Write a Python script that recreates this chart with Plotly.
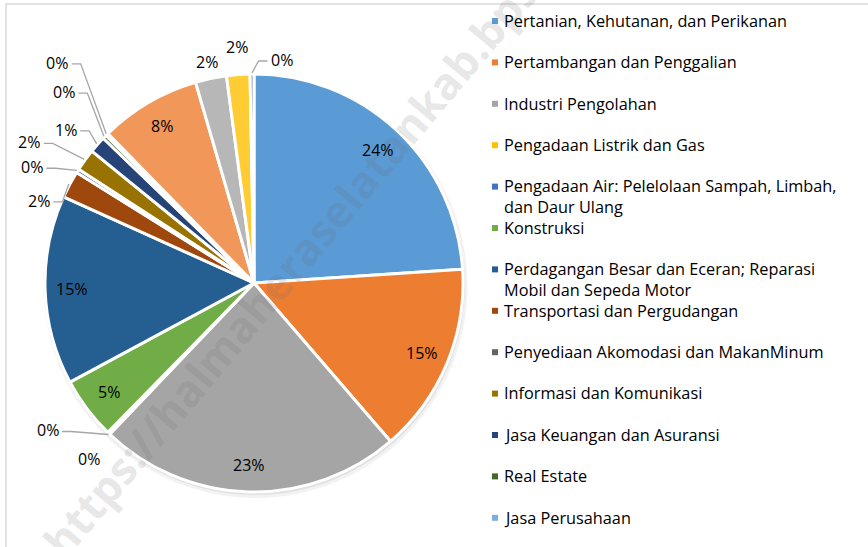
import math
import plotly.graph_objects as go

# ---------------- data ----------------
categories = [
    "Pertanian, Kehutanan, dan Perikanan",
    "Pertambangan dan Penggalian",
    "Industri Pengolahan",
    "Pengadaan Listrik dan Gas",
    "Pengadaan Air: Pelelolaan Sampah, Limbah, dan Daur Ulang",
    "Konstruksi",
    "Perdagangan Besar dan Eceran; Reparasi Mobil dan Sepeda Motor",
    "Transportasi dan Pergudangan",
    "Penyediaan Akomodasi dan MakanMinum",
    "Informasi dan Komunikasi",
    "Jasa Keuangan dan Asuransi",
    "Real Estate",
    "Jasa Perusahaan",
    "Administrasi Pemerintahan, Pertahanan dan Jaminan Sosial Wajib",
    "Jasa Pendidikan",
    "Jasa Kesehatan dan Kegiatan Sosial",
    "Jasa lainnya",
]
legend_text = [
    "Pertanian, Kehutanan, dan Perikanan",
    "Pertambangan dan Penggalian",
    "Industri Pengolahan",
    "Pengadaan Listrik dan Gas",
    "Pengadaan Air: Pelelolaan Sampah, Limbah,<br>dan Daur Ulang",
    "Konstruksi",
    "Perdagangan Besar dan Eceran; Reparasi<br>Mobil dan Sepeda Motor",
    "Transportasi dan Pergudangan",
    "Penyediaan Akomodasi dan MakanMinum",
    "Informasi dan Komunikasi",
    "Jasa Keuangan dan Asuransi",
    "Real Estate",
    "Jasa Perusahaan",
    "Administrasi Pemerintahan, Pertahanan dan<br>Jaminan Sosial Wajib",
    "Jasa Pendidikan",
    "Jasa Kesehatan dan Kegiatan Sosial",
    "Jasa lainnya",
]
shares = [23.9, 14.7, 23.4, 0.1, 0.1, 4.8, 14.6, 2.1, 0.3, 1.7, 1.3, 0.3, 0.2, 7.8, 2.4, 1.8, 0.3]
watermark = "https://halmaheraselatankab.bps.go.id"

# ---------------- style ----------------
colors = ["#5B9BD5", "#ED7D31", "#A5A5A5", "#FFC000", "#4472C4", "#70AD47",
          "#255E91", "#9E480E", "#636363", "#997300", "#264478", "#43682B",
          "#7CAFDD", "#F1975A", "#B7B7B7", "#FFCD33", "#698ED0"]
inside_idx = {0, 1, 2, 5, 6, 13}
# pixel offsets of outside labels from the slice edge, and whether a leader line is drawn
outside_offsets = {
    3: (-61, -4, True),
    4: (-19, 25, False),
    7: (-30, 17, True),
    8: (-45, -3, True),
    9: (-55, -17, True),
    10: (-31, -14, True),
    11: (-40, -44, True),
    12: (-49, -71, True),
    14: (-4, -16, False),
    15: (-1, -27, False),
    16: (30, -13, True),
}
W, H = 868, 547
CX, CY, R = 254, 283, 209
FONT = "Open Sans"
LABEL_HALF_W = 11.5
LEADER = "#A6A6A6"


def px2paper(x, y):
    return x / W, 1 - y / H


def pie_domain(cx, cy, r):
    return dict(x=[(cx - r) / W, (cx + r) / W], y=[1 - (cy + r) / H, 1 - (cy - r) / H])


fig = go.Figure()
# soft drop shadow under the pie
for off, grow, alpha in [(3, 3, 0.05), (2, 1, 0.07), (1, 0, 0.08)]:
    fig.add_trace(go.Pie(values=[1], labels=["shadow"], sort=False, textinfo="none",
                         hoverinfo="skip", showlegend=False,
                         marker=dict(colors=[f"rgba(0,0,0,{alpha})"], line=dict(width=0)),
                         domain=pie_domain(CX + off * 0.5, CY + off, R + grow)))

fig.add_trace(go.Pie(
    labels=categories, values=shares, sort=False, direction="clockwise", rotation=0,
    marker=dict(colors=colors, line=dict(color="white", width=3)),
    textinfo="none", hoverinfo="label+percent", showlegend=False,
    domain=pie_domain(CX, CY, R),
))

annotations = []
shapes = []

# watermark
wx, wy = px2paper(328, 221)
annotations.append(dict(text="<b>" + watermark + "</b>", x=wx, y=wy, xref="paper", yref="paper",
                        xanchor="center", yanchor="middle",
                        showarrow=False, textangle=-50,
                        font=dict(family=FONT, size=44, color="rgba(110,110,110,0.18)")))

total = sum(shares)
cum = 0.0
for i, v in enumerate(shares):
    mid = (cum + v / 2) / total * 2 * math.pi
    cum += v
    pct = f"{round(v / total * 100):.0f}%"
    if i in inside_idx:
        rr = 0.87 * R
        tx_px, ty_px = CX + rr * math.sin(mid), CY - rr * math.cos(mid)
    else:
        dx, dy, line = outside_offsets[i]
        rr = R + 1
        axp, ayp = CX + rr * math.sin(mid), CY - rr * math.cos(mid)
        tx_px, ty_px = axp + dx, ayp + dy
        if line:
            sgn = 1 if axp > tx_px else -1
            sx, sy = tx_px + sgn * (LABEL_HALF_W + 3), ty_px + 1
            kx = sx + sgn * 9
            pts = [px2paper(sx, sy), px2paper(kx, sy), px2paper(axp, ayp)]
            path = "M {:.5f},{:.5f} L {:.5f},{:.5f} L {:.5f},{:.5f}".format(
                pts[0][0], pts[0][1], pts[1][0], pts[1][1], pts[2][0], pts[2][1])
            shapes.append(dict(type="path", xref="paper", yref="paper", path=path,
                               line=dict(color=LEADER, width=1.3)))
    x, y = px2paper(tx_px, ty_px)
    annotations.append(dict(text=pct, x=x, y=y, xref="paper", yref="paper", showarrow=False,
                            xanchor="center", yanchor="middle",
                            font=dict(family=FONT, size=16, color="#000000")))

# manual legend (Excel-like uniform spacing; entries past the bottom edge are not visible)
LEG_Y0, LEG_DY, LEG_MX, LEG_TX = 20, 41.4, 495, 503
for i, (txt, c) in enumerate(zip(legend_text, colors)):
    yc = LEG_Y0 + LEG_DY * i
    if yc + 8 > H:
        break
    x0, y0 = px2paper(LEG_MX - 3, yc - 2)
    x1, y1 = px2paper(LEG_MX + 3, yc + 4)
    shapes.append(dict(type="rect", xref="paper", yref="paper", x0=x0, x1=x1, y0=y0, y1=y1,
                       fillcolor=c, line=dict(width=0)))
    tx, ty = px2paper(LEG_TX, yc - 11.2)
    annotations.append(dict(text=txt, x=tx, y=ty, xref="paper", yref="paper", showarrow=False,
                            xanchor="left", yanchor="top", align="left", borderpad=0,
                            font=dict(family=FONT, size=16.3, color="#000000")))

# chart frame
fx0, fy0 = px2paper(6, 4)
shapes.append(dict(type="rect", xref="paper", yref="paper", x0=fx0, y0=fy0, x1=1.5, y1=-0.5,
                   line=dict(color="#D9D9D9", width=1.5), fillcolor="rgba(0,0,0,0)"))

fig.update_layout(width=W, height=H, margin=dict(l=0, r=0, t=0, b=0),
                  paper_bgcolor="white", plot_bgcolor="white",
                  annotations=annotations, shapes=shapes)
fig.write_html("out.html", config={"displayModeBar": False},
               post_script="document.body.style.margin='0';document.body.style.overflow='hidden';")
